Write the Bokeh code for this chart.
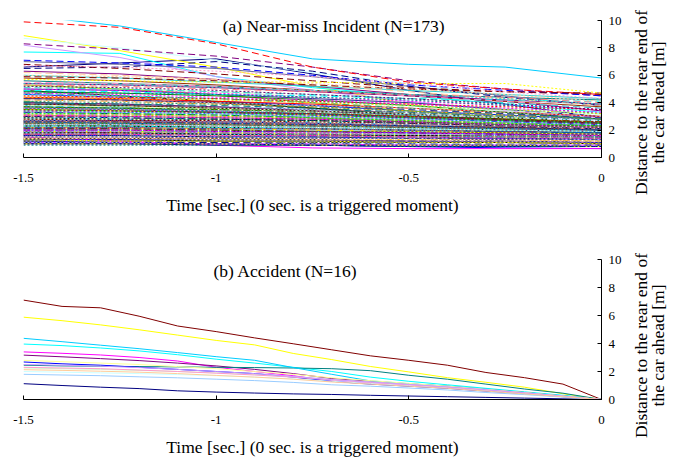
import math
from bokeh.plotting import figure
from bokeh.models import Range1d, FixedTicker, Label, ColumnDataSource, Div
from bokeh.layouts import column, row
from bokeh.embed import file_html
from bokeh.resources import INLINE

# ---------------- data ----------------
# (a) Near-miss incidents: distance [m] at these times [s]
near_miss_time = [-1.5, -1.25, -1.0, -0.75, -0.5, -0.25, 0.0]

near_miss_solid = [
    [6.6, 6.9, 7.2, 6.1, 4.9, 3.9, 2.9],
    [3.0, 2.9, 2.7, 2.5, 2.3, 2.1, 1.9],
    [8.9, 7.8, 6.6, 5.2, 3.9, 3.0, 2.4],
    [7.7, 7.6, 5.9, 5.1, 4.5, 3.9, 3.3],
    [6.3, 6.1, 5.7, 5.2, 4.6, 4.1, 3.4],
    [4.3, 4.2, 4.0, 3.6, 3.2, 2.8, 2.3],
    [5.6, 5.4, 5.2, 4.9, 4.6, 4.4, 4.2],
    [4.6, 4.4, 4.1, 3.8, 3.4, 3.1, 2.8],
    [10.4, 9.6, 8.4, 7.2, 6.8, 6.6, 5.8],
    [8.7, 8.0, 7.1, 6.2, 5.4, 4.5, 3.6],
    [5.2, 5.0, 4.8, 4.4, 4.0, 3.6, 3.2],
    [3.8, 3.7, 3.5, 3.3, 3.1, 2.9, 2.6],
    [4.0, 3.9, 3.7, 3.5, 3.2, 2.9, 2.6],
    [2.4, 2.3, 2.2, 2.1, 2.0, 1.9, 1.8],
    [8.2, 7.3, 5.9, 4.9, 4.1, 3.4, 2.9],
    [3.3, 3.2, 3.0, 2.9, 2.7, 2.5, 2.3],
    [2.1, 2.0, 1.9, 1.9, 1.8, 1.7, 1.6],
    [6.0, 5.8, 5.5, 5.2, 4.9, 4.6, 4.3],
    [5.3, 5.0, 4.6, 4.0, 3.4, 2.9, 2.5],
    [3.5, 3.4, 3.3, 3.1, 2.9, 2.6, 2.4],
    [2.7, 2.6, 2.5, 2.4, 2.3, 2.2, 2.1],
    [1.8, 1.8, 1.7, 1.6, 1.6, 1.5, 1.4],
    [7.0, 6.8, 6.5, 5.9, 5.2, 4.5, 3.8],
    [3.1, 3.0, 2.9, 2.8, 2.6, 2.4, 2.2],
    [2.6, 2.5, 2.4, 2.3, 2.2, 2.0, 1.9],
    [4.1, 3.7, 3.3, 2.9, 2.6, 2.4, 2.2],
    [4.9, 4.5, 4.1, 3.6, 3.1, 2.7, 2.3],
    [1.6, 1.6, 1.5, 1.5, 1.4, 1.4, 1.3],
    [5.8, 5.6, 5.3, 4.9, 4.5, 4.1, 3.7],
    [2.2, 2.2, 2.1, 2.0, 1.9, 1.8, 1.7],
    [5.0, 4.9, 4.6, 4.3, 4.0, 3.5, 3.0],
    [3.6, 3.5, 3.3, 3.2, 3.0, 2.7, 2.5],
    [1.3, 1.3, 1.2, 1.2, 1.1, 1.1, 1.0],
    [4.4, 4.3, 4.1, 3.9, 3.6, 3.3, 3.0],
    [2.0, 1.9, 1.9, 1.8, 1.7, 1.6, 1.5],
    [1.2, 1.1, 1.0, 0.9, 0.8, 0.7, 0.65],
    [1.9, 1.9, 1.8, 1.7, 1.6, 1.5, 1.4],
    [1.5, 1.2, 0.9, 0.7, 0.65, 0.65, 0.65],
    [2.8, 2.8, 2.7, 2.6, 2.4, 2.3, 2.1],
    [3.9, 3.8, 3.6, 3.4, 3.1, 2.8, 2.5],
    [4.8, 4.7, 4.5, 4.2, 3.8, 3.3, 2.8],
    [1.0, 1.0, 0.9, 0.9, 0.8, 0.8, 0.8],
    [2.5, 2.4, 2.4, 2.3, 2.2, 2.1, 2.0],
    [5.4, 5.3, 5.1, 4.8, 4.5, 4.2, 3.9],
    [2.3, 2.3, 2.2, 2.1, 2.0, 1.9, 1.8],
    [3.4, 3.3, 3.2, 3.0, 2.8, 2.6, 2.4],
    [1.7, 1.7, 1.6, 1.6, 1.5, 1.4, 1.3],
    [2.9, 2.8, 2.7, 2.5, 2.4, 2.2, 2.0],
    [1.4, 1.4, 1.3, 1.3, 1.2, 1.2, 1.1],
    [3.0, 2.9, 2.8, 2.7, 2.5, 2.3, 2.1],
    [2.0, 2.0, 1.9, 1.8, 1.7, 1.6, 1.5],
    [4.0, 3.9, 3.7, 3.4, 3.1, 2.7, 2.4],
    [2.6, 2.6, 2.5, 2.4, 2.3, 2.2, 2.1],
    [3.7, 3.6, 3.4, 3.2, 2.9, 2.6, 2.3],
    [1.8, 1.7, 1.7, 1.6, 1.5, 1.5, 1.4],
    [2.7, 2.7, 2.6, 2.5, 2.3, 2.2, 2.0],
    [1.1, 1.1, 1.0, 1.0, 0.9, 0.9, 0.9],
    [2.2, 2.1, 2.1, 2.0, 1.9, 1.8, 1.7],
]

near_miss_dashed = [
    [6.5, 6.6, 7.0, 6.3, 5.2, 4.4, 3.8],
    [2.5, 2.4, 2.4, 2.3, 2.2, 2.1, 2.0],
    [3.2, 3.1, 3.0, 2.9, 2.7, 2.5, 2.3],
    [4.9, 4.8, 4.6, 4.5, 4.3, 4.2, 4.1],
    [8.3, 7.9, 7.4, 6.6, 5.6, 5.0, 4.5],
    [6.8, 6.5, 6.1, 5.6, 5.1, 4.8, 4.6],
    [3.4, 3.3, 3.2, 3.0, 2.8, 2.6, 2.4],
    [7.1, 6.9, 6.6, 6.0, 5.3, 4.9, 4.5],
    [3.8, 3.6, 3.5, 3.3, 3.1, 2.9, 2.7],
    [2.0, 2.0, 1.9, 1.9, 1.8, 1.7, 1.7],
    [4.5, 4.4, 4.2, 4.0, 3.7, 3.4, 3.1],
    [2.9, 2.8, 2.7, 2.6, 2.5, 2.4, 2.2],
    [2.2, 2.2, 2.1, 2.0, 1.9, 1.9, 1.8],
    [5.5, 5.4, 5.2, 4.9, 4.5, 4.1, 3.6],
    [1.9, 1.9, 1.8, 1.8, 1.7, 1.6, 1.6],
    [6.2, 6.0, 5.7, 5.3, 4.8, 4.3, 3.8],
    [3.6, 3.5, 3.3, 3.1, 2.9, 2.7, 2.5],
    [5.1, 5.0, 4.8, 4.6, 4.3, 4.0, 3.6],
    [2.4, 2.3, 2.3, 2.2, 2.1, 2.0, 1.9],
    [1.5, 1.5, 1.4, 1.4, 1.3, 1.3, 1.2],
    [4.2, 4.1, 3.9, 3.7, 3.4, 3.1, 2.8],
    [3.0, 2.9, 2.8, 2.7, 2.5, 2.3, 2.1],
    [2.7, 2.6, 2.6, 2.5, 2.4, 2.2, 2.1],
    [1.2, 1.2, 1.1, 1.1, 1.1, 1.0, 1.0],
    [3.3, 3.2, 3.1, 2.9, 2.7, 2.5, 2.3],
    [4.7, 4.5, 4.3, 4.0, 3.6, 3.2, 2.8],
    [2.1, 2.1, 2.0, 1.9, 1.8, 1.7, 1.6],
    [3.9, 3.8, 3.6, 3.4, 3.2, 2.9, 2.6],
    [1.7, 1.7, 1.6, 1.6, 1.5, 1.5, 1.4],
    [2.8, 2.7, 2.6, 2.5, 2.4, 2.3, 2.2],
    [4.3, 4.2, 4.0, 3.8, 3.5, 3.2, 2.9],
    [1.4, 1.4, 1.3, 1.3, 1.2, 1.2, 1.1],
    [2.3, 2.3, 2.2, 2.1, 2.0, 1.9, 1.8],
    [9.9, 9.5, 8.3, 6.6, 5.5, 5.0, 4.6],
    [3.5, 3.4, 3.3, 3.1, 2.9, 2.7, 2.5],
    [1.6, 1.6, 1.5, 1.5, 1.4, 1.4, 1.3],
    [2.6, 2.5, 2.5, 2.4, 2.3, 2.2, 2.1],
    [3.1, 3.0, 2.9, 2.8, 2.6, 2.4, 2.2],
    [1.8, 1.8, 1.7, 1.7, 1.6, 1.5, 1.5],
    [5.9, 5.8, 5.6, 5.3, 5.0, 4.8, 4.7],
    [2.5, 2.5, 2.4, 2.3, 2.2, 2.1, 2.0],
    [1.1, 1.1, 1.1, 1.0, 1.0, 0.9, 0.9],
    [3.7, 3.6, 3.5, 3.3, 3.0, 2.8, 2.6],
    [2.0, 2.0, 1.9, 1.9, 1.8, 1.7, 1.6],
    [4.0, 3.9, 3.8, 3.6, 3.3, 3.0, 2.7],
    [2.4, 2.4, 2.3, 2.2, 2.1, 2.0, 1.9],
    [1.3, 1.3, 1.3, 1.2, 1.2, 1.1, 1.1],
    [3.2, 3.1, 3.0, 2.9, 2.7, 2.5, 2.3],
    [1.9, 1.8, 1.8, 1.7, 1.6, 1.6, 1.5],
    [2.8, 2.8, 2.7, 2.6, 2.4, 2.3, 2.2],
    [3.4, 3.3, 3.2, 3.0, 2.8, 2.6, 2.4],
    [2.6, 2.6, 2.5, 2.4, 2.3, 2.2, 2.1],
    [5.3, 5.2, 5.0, 4.8, 4.6, 4.4, 4.0],
    [2.2, 2.2, 2.1, 2.1, 2.0, 1.9, 1.8],
    [1.5, 1.5, 1.5, 1.4, 1.4, 1.3, 1.3],
    [3.0, 2.9, 2.8, 2.7, 2.5, 2.3, 2.1],
    [1.7, 1.7, 1.6, 1.6, 1.5, 1.4, 1.4],
    [1.0, 1.0, 1.0, 0.9, 0.9, 0.9, 0.8],
]

near_miss_dotted = [
    [2.4, 2.4, 2.3, 2.2, 2.1, 2.0, 1.9],
    [5.0, 4.9, 4.7, 4.4, 4.1, 3.8, 3.5],
    [5.7, 5.6, 5.5, 5.5, 5.4, 5.4, 4.7],
    [4.6, 4.5, 4.3, 4.1, 3.8, 3.5, 3.2],
    [2.1, 2.1, 2.0, 1.9, 1.8, 1.8, 1.7],
    [3.6, 3.5, 3.4, 3.2, 3.0, 2.8, 2.6],
    [4.8, 4.7, 4.6, 4.4, 4.2, 3.8, 3.2],
    [1.3, 1.3, 1.3, 1.2, 1.2, 1.2, 1.1],
    [2.9, 2.9, 2.8, 2.7, 2.5, 2.4, 2.2],
    [1.6, 1.6, 1.6, 1.5, 1.5, 1.4, 1.4],
    [3.8, 3.7, 3.6, 3.4, 3.2, 2.9, 2.7],
    [2.3, 2.2, 2.2, 2.1, 2.0, 2.0, 1.9],
    [1.1, 1.1, 1.0, 1.0, 1.0, 0.9, 0.9],
    [6.7, 6.6, 6.3, 5.9, 5.4, 4.8, 4.3],
    [2.7, 2.7, 2.6, 2.5, 2.4, 2.3, 2.2],
    [6.0, 5.9, 5.7, 5.4, 5.0, 4.6, 4.1],
    [3.3, 3.3, 3.2, 3.0, 2.8, 2.6, 2.4],
    [5.4, 5.3, 5.1, 4.9, 4.6, 4.3, 3.9],
    [1.9, 1.9, 1.8, 1.8, 1.7, 1.6, 1.6],
    [4.4, 4.3, 4.2, 4.0, 3.8, 3.5, 3.2],
    [3.1, 3.1, 3.0, 2.9, 2.7, 2.5, 2.3],
    [1.4, 1.4, 1.4, 1.3, 1.3, 1.3, 1.2],
    [3.9, 3.8, 3.7, 3.5, 3.3, 3.0, 2.8],
    [2.5, 2.5, 2.4, 2.3, 2.2, 2.1, 2.0],
    [1.7, 1.7, 1.7, 1.6, 1.6, 1.5, 1.5],
    [4.1, 4.0, 3.9, 3.7, 3.4, 3.1, 2.8],
    [2.9, 2.8, 2.8, 2.7, 2.6, 2.4, 2.3],
    [1.2, 1.2, 1.2, 1.1, 1.1, 1.1, 1.0],
    [3.5, 3.4, 3.3, 3.2, 3.0, 2.8, 2.6],
    [2.2, 2.2, 2.1, 2.1, 2.0, 1.9, 1.9],
    [1.5, 1.5, 1.4, 1.4, 1.4, 1.3, 1.3],
    [2.6, 2.6, 2.5, 2.4, 2.3, 2.2, 2.0],
    [1.8, 1.8, 1.7, 1.7, 1.6, 1.6, 1.5],
    [4.5, 4.4, 4.3, 4.1, 3.9, 3.7, 3.5],
    [3.2, 3.2, 3.1, 2.9, 2.7, 2.5, 2.3],
    [2.0, 2.0, 1.9, 1.9, 1.8, 1.7, 1.7],
    [1.3, 1.2, 1.2, 1.2, 1.1, 1.1, 1.0],
    [4.7, 4.6, 4.4, 4.2, 3.9, 3.6, 3.3],
    [2.3, 2.3, 2.2, 2.2, 2.1, 2.0, 1.9],
    [2.8, 2.7, 2.7, 2.6, 2.5, 2.3, 2.2],
    [3.7, 3.6, 3.5, 3.3, 3.1, 2.8, 2.5],
    [1.6, 1.6, 1.5, 1.5, 1.5, 1.4, 1.4],
    [2.1, 2.0, 2.0, 1.9, 1.9, 1.8, 1.7],
    [3.4, 3.4, 3.3, 3.1, 2.9, 2.7, 2.5],
    [0.9, 0.9, 0.9, 0.9, 0.8, 0.8, 0.8],
    [4.2, 4.1, 4.0, 3.8, 3.6, 3.3, 3.0],
    [2.7, 2.6, 2.6, 2.5, 2.4, 2.3, 2.1],
    [1.9, 1.9, 1.8, 1.7, 1.7, 1.6, 1.5],
    [3.0, 3.0, 2.9, 2.8, 2.6, 2.4, 2.2],
    [1.4, 1.4, 1.3, 1.3, 1.3, 1.2, 1.2],
    [2.4, 2.4, 2.3, 2.2, 2.1, 2.0, 1.9],
    [5.2, 5.1, 4.9, 4.6, 4.3, 3.9, 3.5],
    [1.7, 1.7, 1.6, 1.6, 1.5, 1.5, 1.4],
    [2.6, 2.5, 2.5, 2.4, 2.3, 2.1, 2.0],
    [3.6, 3.5, 3.4, 3.3, 3.1, 2.9, 2.7],
    [1.0, 1.0, 1.0, 0.9, 0.9, 0.9, 0.8],
    [2.0, 2.0, 1.9, 1.8, 1.8, 1.7, 1.6],
]

# (b) Accidents: distance [m] at these times [s]
accident_time = [-1.5, -1.4, -1.3, -1.2, -1.1, -1.0, -0.9, -0.8,
                 -0.7, -0.6, -0.5, -0.4, -0.3, -0.2, -0.1, 0.0]
accident_lines = [
    [1.13, 1.0, 0.88, 0.78, 0.62, 0.53, 0.46, 0.4, 0.36, 0.3, 0.25, 0.2, 0.15, 0.1, 0.05, 0.0],
    [3.4, 3.3, 3.18, 3.0, 2.75, 2.3, 2.0, 1.7, 1.3, 1.15, 1.0, 0.85, 0.65, 0.45, 0.22, 0.0],
    [5.88, 5.63, 5.33, 4.98, 4.6, 4.22, 3.9, 3.29, 2.85, 2.36, 1.97, 1.56, 1.23, 0.88, 0.41, 0.0],
    [3.96, 3.85, 3.68, 3.47, 3.2, 2.88, 2.6, 2.3, 2.0, 1.6, 1.3, 1.05, 0.8, 0.55, 0.3, 0.0],
    [3.17, 3.05, 2.92, 2.78, 2.6, 2.4, 2.15, 1.85, 1.5, 1.3, 1.12, 0.95, 0.72, 0.5, 0.25, 0.0],
    [7.1, 6.65, 6.55, 5.95, 5.25, 4.85, 4.4, 3.98, 3.55, 3.12, 2.8, 2.45, 1.93, 1.56, 1.1, 0.0],
    [2.45, 2.4, 2.38, 2.35, 2.33, 2.3, 2.28, 2.25, 2.2, 2.06, 1.73, 1.45, 1.1, 0.75, 0.45, 0.0],
    [2.68, 2.55, 2.45, 2.3, 2.15, 2.0, 1.85, 1.6, 1.3, 1.1, 0.95, 0.8, 0.6, 0.42, 0.2, 0.0],
    [4.37, 4.13, 3.88, 3.63, 3.35, 3.06, 2.8, 2.28, 1.8, 1.33, 1.13, 0.95, 0.75, 0.5, 0.27, 0.0],
    [2.0, 1.95, 1.9, 1.85, 1.78, 1.7, 1.6, 1.48, 1.3, 1.15, 1.0, 0.85, 0.65, 0.45, 0.22, 0.0],
    [2.25, 2.2, 2.15, 2.08, 2.0, 1.9, 1.78, 1.62, 1.42, 1.25, 1.08, 0.9, 0.7, 0.48, 0.24, 0.0],
    [2.8, 2.7, 2.6, 2.5, 2.35, 2.2, 2.0, 1.8, 1.55, 1.35, 1.15, 0.95, 0.72, 0.5, 0.25, 0.0],
    [1.8, 1.75, 1.7, 1.62, 1.55, 1.45, 1.35, 1.22, 1.05, 0.95, 0.82, 0.68, 0.5, 0.35, 0.17, 0.0],
    [2.3, 2.25, 2.2, 2.1, 2.0, 1.88, 1.75, 1.6, 1.4, 1.22, 1.05, 0.88, 0.68, 0.46, 0.23, 0.0],
    [2.5, 2.45, 2.38, 2.28, 2.15, 2.0, 1.85, 1.65, 1.42, 1.25, 1.08, 0.9, 0.7, 0.48, 0.24, 0.0],
    [2.13, 2.08, 2.02, 1.95, 1.85, 1.72, 1.6, 1.45, 1.25, 1.1, 0.95, 0.8, 0.6, 0.4, 0.2, 0.0],
]

x_ticks = [-1.5, -1.0, -0.5, 0.0]
x_tick_labels = ["-1.5", "-1", "-0.5", "0"]
y_ticks = [0, 2, 4, 6, 8, 10]
y_title_lines = ["Distance to the rear end of", "the car ahead [m]"]

# ---------------- styling ----------------
PALETTE = [
    "#000080", "#FF00FF", "#FFFF00", "#00FFFF", "#800080", "#800000", "#008080", "#0000FF",
    "#00CCFF", "#CCFFFF", "#CCFFCC", "#FFFF99", "#99CCFF", "#FF99CC", "#CC99FF", "#FFCC99",
    "#3366FF", "#33CCCC", "#99CC00", "#FFCC00", "#FF9900", "#FF6600", "#666699", "#969696",
    "#003366", "#339966", "#003300", "#333300", "#993300", "#993366", "#333399", "#333333",
    "#000000", "#FF0000", "#00FF00", "#0000FF", "#FFFF00", "#FF00FF", "#00FFFF", "#800000",
    "#008000", "#000080", "#808000", "#800080", "#008080", "#C0C0C0", "#808080", "#9999FF",
    "#993366", "#FFFFCC", "#CCFFFF", "#660066", "#FF8080", "#0066CC", "#CCCCFF",
]
FONT = "Liberation Serif"
BIG = "17.5px"
SMALL = "13px"
MAIN_W = 628
SIDE_W = 55


def make_fig(height, border_top, border_bottom):
    p = figure(width=MAIN_W, height=height, output_backend="svg", toolbar_location=None,
               x_range=Range1d(-1.5, 0.0), y_range=Range1d(0, 10),
               y_axis_location="right",
               min_border_left=23, min_border_right=27,
               min_border_top=border_top, min_border_bottom=border_bottom)
    p.grid.visible = False
    p.outline_line_color = None
    p.background_fill_color = "white"
    p.border_fill_color = "white"

    xa = p.xaxis[0]
    xa.ticker = FixedTicker(ticks=x_ticks)
    xa.major_label_overrides = {t: s for t, s in zip(x_ticks, x_tick_labels)}
    xa.minor_tick_line_color = None
    xa.major_tick_in = 4
    xa.major_tick_out = 0
    xa.major_label_standoff = 16
    xa.axis_line_color = "black"
    xa.major_tick_line_color = "black"
    xa.major_label_text_font = FONT
    xa.major_label_text_font_size = SMALL
    xa.major_label_text_color = "black"
    xa.axis_label = "Time [sec.] (0 sec. is a triggered moment)"
    xa.axis_label_text_font = FONT
    xa.axis_label_text_font_size = BIG
    xa.axis_label_text_font_style = "normal"
    xa.axis_label_text_color = "black"
    xa.axis_label_standoff = 10

    ya = p.yaxis[0]
    ya.ticker = FixedTicker(ticks=y_ticks)
    ya.minor_tick_line_color = None
    ya.major_tick_in = 4
    ya.major_tick_out = 0
    ya.major_label_standoff = 7
    ya.axis_line_color = "black"
    ya.major_tick_line_color = "black"
    ya.major_label_text_font = FONT
    ya.major_label_text_font_size = SMALL
    ya.major_label_text_color = "black"
    return p


def make_side(height, y_center):
    # narrow panel carrying the two-line vertical y-axis title
    try:
        s = figure(width=SIDE_W, height=height, output_backend="svg", toolbar_location=None,
                   x_range=Range1d(0, SIDE_W), y_range=Range1d(0, height),
                   x_axis_location=None, y_axis_location=None,
                   min_border=0)
        s.frame_align = False
        s.grid.visible = False
        s.outline_line_color = None
        s.border_fill_color = "white"
        for txt, xx in zip(y_title_lines, (12, 29)):
            s.add_layout(Label(x=xx, y=y_center, text=txt, angle=math.pi / 2,
                               text_align="center", text_baseline="middle",
                               text_font=FONT, text_font_size=BIG, text_color="black"))
        return s
    except AttributeError:
        html = ("<div style='writing-mode:vertical-rl;transform:rotate(180deg);"
                "font-family:\"Liberation Serif\";font-size:17.5px;line-height:18px;"
                "margin-top:%dpx'>%s<br>%s</div>" % (height - y_center - 93,
                                                     y_title_lines[0], y_title_lines[1]))
        return Div(text=html, width=SIDE_W, height=height)


# ---- (a) near-miss ----
H1, H2 = 238, 223
p1 = make_fig(H1, 20, H1 - 157)
groups = [(near_miss_solid, "solid"), (near_miss_dashed, "7 4"), (near_miss_dotted, "2 2")]
for lines, dash in groups:
    src = ColumnDataSource(dict(
        xs=[near_miss_time] * len(lines),
        ys=lines,
        color=[PALETTE[i % len(PALETTE)] for i in range(len(lines))],
    ))
    p1.multi_line("xs", "ys", source=src, line_color="color", line_width=1,
                  line_dash=dash)
p1.add_layout(Label(x=-0.695, y=9.62, text="(a) Near-miss Incident (N=173)",
                    text_align="center", text_baseline="middle",
                    text_font=FONT, text_font_size=BIG, text_color="black"))
s1 = make_side(H1, H1 - 102)

# ---- (b) accident ----
p2 = make_fig(H2, 21, H2 - 161)
src2 = ColumnDataSource(dict(
    xs=[accident_time] * len(accident_lines),
    ys=accident_lines,
    color=[PALETTE[i % len(PALETTE)] for i in range(len(accident_lines))],
))
p2.multi_line("xs", "ys", source=src2, line_color="color", line_width=1)
p2.add_layout(Label(x=-0.82, y=9.2, text="(b) Accident (N=16)",
                    text_align="center", text_baseline="middle",
                    text_font=FONT, text_font_size=BIG, text_color="black"))
s2 = make_side(H2, H2 - 107)

layout = column(row(p1, s1), row(p2, s2))
open("out.html", "w").write(file_html(layout, INLINE))
